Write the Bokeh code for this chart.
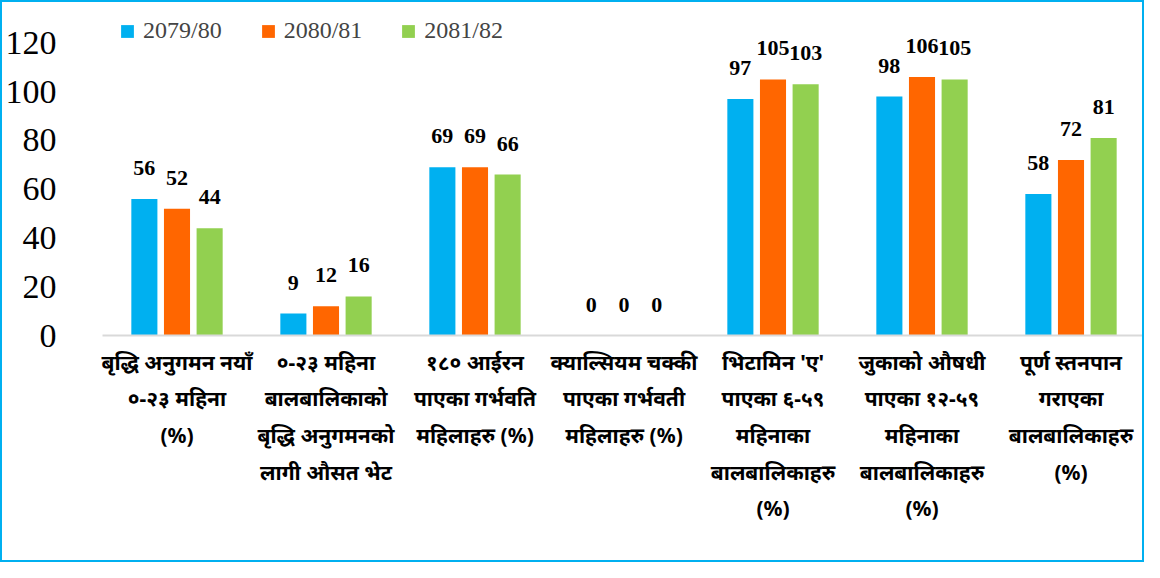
from bokeh.plotting import figure
from bokeh.models import (ColumnDataSource, FactorRange, Range1d, FixedTicker,
                          Legend, LegendItem)
from bokeh.transform import dodge
from bokeh.core.properties import value
from bokeh.embed import file_html
from bokeh.resources import INLINE

categories = [
    "बृद्धि अनुगमन नयाँ\n०-२३ महिना\n(%)",
    "०-२३ महिना\nबालबालिकाको\nबृद्धि अनुगमनको\nलागी औसत भेट",
    "१८० आईरन\nपाएका गर्भवति\nमहिलाहरु (%)",
    "क्याल्सियम चक्की\nपाएका गर्भवती\nमहिलाहरु (%)",
    "भिटामिन 'ए'\nपाएका ६-५९\nमहिनाका\nबालबालिकाहरु\n(%)",
    "जुकाको औषधी\nपाएका १२-५९\nमहिनाका\nबालबालिकाहरु\n(%)",
    "पूर्ण स्तनपान\nगराएका\nबालबालिकाहरु\n(%)",
]
years = ["2079/80", "2080/81", "2081/82"]
v_2079_80 = [56, 9, 69, 0, 97, 98, 58]
v_2080_81 = [52, 12, 69, 0, 105, 106, 72]
v_2081_82 = [44, 16, 66, 0, 103, 105, 81]
y_ticks = [0, 20, 40, 60, 80, 100, 120]

colors = ["#00B0F0", "#FF6600", "#92D050"]
series = [v_2079_80, v_2080_81, v_2081_82]
offsets = [-0.219, 0.0, 0.219]

p = figure(x_range=FactorRange(*categories, range_padding=0),
           y_range=Range1d(0, 134.5),
           width=1144, height=562, output_backend="svg", toolbar_location=None,
           min_border_left=98, min_border_right=1, min_border_top=5,
           min_border_bottom=229)
p.styles = {"border": "2px solid #00B0F0"}
p.outline_line_color = None
p.xgrid.grid_line_color = None
p.ygrid.grid_line_color = None

items = []
for yr, vals, col, off in zip(years, series, colors, offsets):
    src = ColumnDataSource(dict(cat=categories, val=vals,
                                lbl=[str(v) for v in vals]))
    r = p.vbar(x=dodge("cat", off, range=p.x_range), top="val", width=0.175,
               source=src, fill_color=col, line_color=None)
    p.text(x=dodge("cat", off, range=p.x_range), y="val", text="lbl", source=src,
           text_align="center", text_baseline="middle", y_offset=-31,
           text_font=value("Liberation Serif"), text_font_style="bold",
           text_font_size="22px", text_color="black")
    items.append(LegendItem(label=yr, renderers=[r]))

legend = Legend(items=items, orientation="horizontal", location=(17, 291),
                margin=0, padding=0, spacing=38, glyph_width=16, glyph_height=16,
                label_standoff=8, label_text_font="Liberation Serif",
                label_text_font_size="24px", border_line_color=None,
                background_fill_alpha=0)
p.add_layout(legend)

p.yaxis.ticker = FixedTicker(ticks=y_ticks)
p.yaxis.axis_line_color = None
p.yaxis.major_tick_line_color = None
p.yaxis.minor_tick_line_color = None
p.yaxis.major_label_standoff = 40
p.yaxis.major_label_text_font = "Liberation Serif"
p.yaxis.major_label_text_font_size = "34px"
p.yaxis.major_label_text_color = "black"

p.xaxis.axis_line_color = "#D9D9D9"
p.xaxis.axis_line_width = 2
p.xaxis.major_tick_line_color = None
p.xaxis.major_label_standoff = 6
p.xaxis.major_label_text_font = "Noto Sans"
p.xaxis.major_label_text_font_style = "bold"
p.xaxis.major_label_text_font_size = "21px"
p.xaxis.major_label_text_color = "black"
p.xaxis.major_label_text_line_height = 1.31

open("out.html", "w").write(file_html(p, INLINE))
